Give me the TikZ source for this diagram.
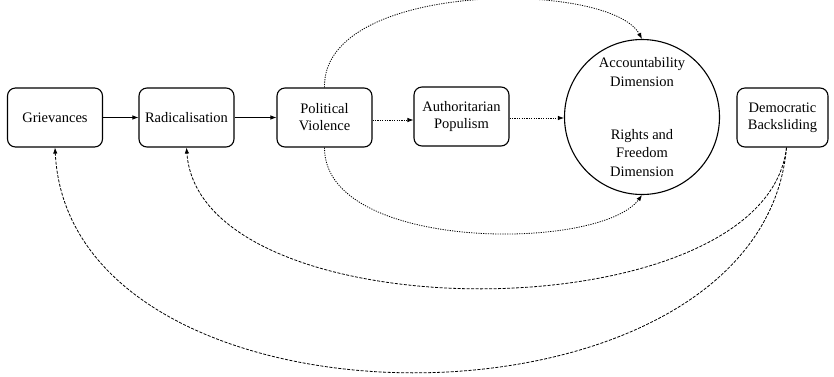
\documentclass[tikz,border=0pt]{standalone}
\usepackage{fontspec}
\setmainfont{Liberation Serif}
\newfontfamily\diagfont{Liberation Serif}
\usetikzlibrary{arrows.meta}
\begin{document}
\begin{tikzpicture}[x=1pt,y=-1pt,
  box/.style={draw, line width=1.1pt, rounded corners=8pt, minimum width=95pt, minimum height=59pt, align=center, inner sep=2pt, font=\diagfont\fontsize{14.5}{17}\selectfont},
  tip/.style={-{Latex[length=6pt,width=4.5pt]}},
  dotline/.style={tip, line width=0.8pt, dash pattern=on 1.2pt off 1.2pt},
  dashline/.style={tip, line width=0.8pt, dash pattern=on 3pt off 1.5pt},
  solidline/.style={tip, line width=0.8pt},
  txt/.style={align=center, font=\diagfont\fontsize{14.5}{18.5}\selectfont}]
\useasboundingbox (0,0) rectangle (834,376);
\node[box] (g) at (55,117.5) {Grievances};
\node[box] (r) at (186.5,117.5) {Radicalisation};
\node[box] (pv) at (324.5,117.5) {Political\\Violence};
\node[box] (ap) at (461.5,116.5) {Authoritarian\\Populism};
\node[draw, circle, line width=1.1pt, minimum size=155pt, inner sep=0pt] (c) at (642,117) {};
\node[txt] (acc) at (642,72) {Accountability\\Dimension};
\node[txt] (rf) at (642,153) {Rights and\\Freedom\\Dimension};
\node[box, minimum width=91pt] (db) at (782.5,117.5) {Democratic\\Backsliding};

\draw[solidline] (g.east) -- (r.west);
\draw[solidline] (r.east) -- (pv.west);
\draw[dotline] (pv.east |- 0,120) -- (ap.west |- 0,120);
\draw[dotline] (ap.east |- 0,118) -- (c.west |- 0,118);
\draw[dotline] (pv.north) .. controls (322,-20) and (610,-20) .. (c.north);
\draw[dotline] (pv.south) .. controls (324,252) and (600,252) .. (c.south);
\coordinate (dbs) at ([xshift=4pt]db.south);
\draw[dashline] (dbs) .. controls (765,335) and (200,335) .. (r.south);
\draw[dashline] (dbs) .. controls (760,447) and (70,447) .. (g.south);
\end{tikzpicture}
\end{document}
